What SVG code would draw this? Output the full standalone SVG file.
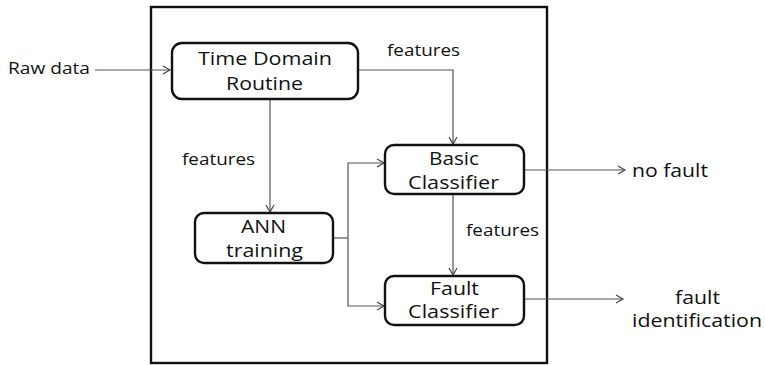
<svg xmlns="http://www.w3.org/2000/svg" width="765" height="365" viewBox="0 0 765 365">
<style>
text{font-family:"Open Sans","Liberation Sans",sans-serif;fill:#111;}
.n{font-size:17.5px;}
.l{font-size:15.5px;}
.o{font-size:18px;}
.box{fill:#fff;stroke:#111;stroke-width:2.4;}
.c{fill:none;stroke:#555;stroke-width:1.2;}
</style>
<defs>
<marker id="a" markerUnits="userSpaceOnUse" markerWidth="10" markerHeight="10" refX="8" refY="5" orient="auto">
<path d="M1,1 L8,5 L1,9" fill="none" stroke="#444" stroke-width="1.2"/>
</marker>
</defs>
<rect id="frame" x="151" y="7" width="396" height="356" fill="none" stroke="#111" stroke-width="2.4"/>
<g id="connectors">
<path class="c" d="M95,70 H170" marker-end="url(#a)"/>
<path class="c" d="M358,70 H453 V144" marker-end="url(#a)"/>
<path class="c" d="M270,99 V212" marker-end="url(#a)"/>
<path class="c" d="M333,238 H348"/>
<path class="c" d="M348,238 V163 H384" marker-end="url(#a)"/>
<path class="c" d="M348,238 V306 H384" marker-end="url(#a)"/>
<path class="c" d="M524,170 H625" marker-end="url(#a)"/>
<path class="c" d="M453,194 V275" marker-end="url(#a)"/>
<path class="c" d="M524,299 H623" marker-end="url(#a)"/>
</g>
<g id="labels">
<text class="l" x="8" y="74" textLength="82" lengthAdjust="spacingAndGlyphs">Raw data</text>
<text class="l" x="387" y="56" textLength="73" lengthAdjust="spacingAndGlyphs">features</text>
<text class="l" x="182" y="165" textLength="73" lengthAdjust="spacingAndGlyphs">features</text>
<text class="l" x="466" y="236" textLength="73" lengthAdjust="spacingAndGlyphs">features</text>
<text class="o" x="632" y="177" textLength="76" lengthAdjust="spacingAndGlyphs">no fault</text>
<text class="o" x="675" y="304" textLength="45" lengthAdjust="spacingAndGlyphs">fault</text>
<text class="o" x="632" y="327" textLength="130" lengthAdjust="spacingAndGlyphs">identification</text>
</g>
<g id="time-domain-routine">
<rect class="box" x="172" y="43" width="186" height="56" rx="10"/>
<text class="n" x="198" y="65" textLength="134" lengthAdjust="spacingAndGlyphs">Time Domain</text>
<text class="n" x="226" y="90" textLength="77" lengthAdjust="spacingAndGlyphs">Routine</text>
</g>
<g id="ann-training">
<rect class="box" x="195" y="213" width="138" height="50" rx="9"/>
<text class="n" x="241" y="233" textLength="45" lengthAdjust="spacingAndGlyphs">ANN</text>
<text class="n" x="226" y="257" textLength="77" lengthAdjust="spacingAndGlyphs">training</text>
</g>
<g id="basic-classifier">
<rect class="box" x="385" y="145" width="139" height="49" rx="9"/>
<text class="n" x="429" y="165" textLength="50" lengthAdjust="spacingAndGlyphs">Basic</text>
<text class="n" x="408" y="189" textLength="91" lengthAdjust="spacingAndGlyphs">Classifier</text>
</g>
<g id="fault-classifier">
<rect class="box" x="385" y="276" width="139" height="49" rx="9"/>
<text class="n" x="430" y="295" textLength="49" lengthAdjust="spacingAndGlyphs">Fault</text>
<text class="n" x="408" y="318" textLength="91" lengthAdjust="spacingAndGlyphs">Classifier</text>
</g>
</svg>
